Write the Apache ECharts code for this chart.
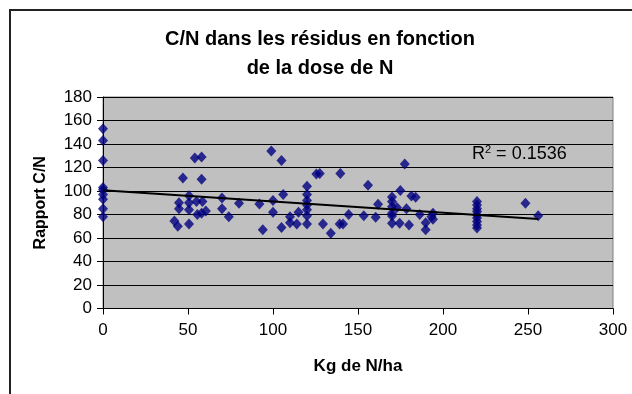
<!DOCTYPE html>
<html>
<head>
<meta charset="utf-8">
<script src="https://cdn.jsdelivr.net/npm/echarts@6/dist/echarts.min.js"></script>
<style>
  html, body { margin: 0; padding: 0; background: #fff; }
  #chart { width: 632px; height: 394px; }
</style>
</head>
<body>
<div id="chart"></div>
<script>
// Nitrogen dose (kg N/ha) and matching C/N ratio of residues, one entry per sample
const doseN = [
  0, 0, 0, 0, 0, 0, 0, 0, 0,
  42, 44, 44.7, 44.7, 47, 50.6, 50.6, 50.6, 50.6, 54, 55, 55.5, 58, 58, 58.5, 58, 60.5,
  70, 70, 74, 80, 92, 94, 99, 100, 100, 105, 105, 106, 110, 110, 114, 115,
  120, 120, 120, 120, 120, 120, 120,
  125.5, 127.5, 129.4, 134, 139.6, 139.2, 141.2, 144.5, 153.4, 155.9, 160.4, 161.8,
  170, 170, 170, 170, 170, 170,
  172.9, 174.9, 174.5, 177.5, 178.5, 180, 181.4, 183.9, 186.3, 189.8, 189.8, 193.2, 194.1, 194.1,
  220, 220, 220, 220, 220, 220, 220, 220, 220,
  248.5, 256
];
const ratioCN = [
  153, 143, 126, 103, 101, 97, 93, 85, 78,
  74.5, 70, 90, 85, 111, 72, 96, 90, 84, 128, 91, 80, 129, 110, 91, 81, 83,
  94, 85, 78, 89.5, 89, 67, 134, 92, 82, 126, 69, 97, 78, 73, 72, 82,
  104, 97, 92, 88, 84, 79, 72,
  114.5, 115, 72, 64, 115, 72, 72, 80, 79, 105, 77.6, 88.7,
  95, 91, 86.6, 81, 78.7, 72.5,
  86, 100.5, 72.5, 123, 85, 71, 95.7, 94.6, 80, 73, 67, 78, 81, 76,
  91, 88, 85, 82.5, 79.6, 77, 74, 71, 68.5,
  89.5, 79
];
const xTicks = [0, 50, 100, 150, 200, 250, 300];
const yTicks = [0, 20, 40, 60, 80, 100, 120, 140, 160, 180];
const r2Label = '0.1536';

const points = doseN.map((x, i) => [x, ratioCN[i]]);

// Ordinary least-squares trend line over the sampled dose range
function linearFit(xs, ys) {
  const n = xs.length;
  let sx = 0, sy = 0, sxx = 0, sxy = 0;
  for (let i = 0; i < n; i++) {
    sx += xs[i]; sy += ys[i]; sxx += xs[i] * xs[i]; sxy += xs[i] * ys[i];
  }
  const slope = (n * sxy - sx * sy) / (n * sxx - sx * sx);
  const intercept = (sy - slope * sx) / n;
  return { slope, intercept };
}
const fit = linearFit(doseN, ratioCN);
const xMin = Math.min(...doseN), xMax = Math.max(...doseN);
const trend = [
  [xMin, fit.intercept + fit.slope * xMin],
  [xMax, fit.intercept + fit.slope * xMax]
];

const FONT = '"Liberation Sans", Arial, sans-serif';
const chart = echarts.init(document.getElementById('chart'));
chart.setOption({
  animation: false,
  backgroundColor: '#ffffff',
  title: {
    text: 'C/N dans les résidus en fonction\nde la dose de N',
    left: 315,
    top: 20,
    textAlign: 'center',
    textStyle: { fontFamily: FONT, fontSize: 20, fontWeight: 'bold', color: '#000', lineHeight: 29 }
  },
  grid: {
    left: 103, top: 97, width: 510, height: 211.5,
    show: true, backgroundColor: '#c0c0c0', borderColor: '#808080', borderWidth: 1
  },
  xAxis: {
    type: 'value',
    min: xTicks[0], max: xTicks[xTicks.length - 1], interval: 50,
    name: 'Kg de N/ha', nameLocation: 'middle', nameGap: 49,
    nameTextStyle: { fontFamily: FONT, fontSize: 17, fontWeight: 'bold', color: '#000' },
    axisLine: { show: true, onZero: false, lineStyle: { color: '#000', width: 1 } },
    axisTick: { show: true, inside: false, length: 6, lineStyle: { color: '#000' } },
    axisLabel: { margin: 13, fontFamily: FONT, fontSize: 17, color: '#000',
      formatter: v => xTicks.includes(v) ? String(v) : '' },
    splitLine: { show: false }
  },
  yAxis: {
    type: 'value',
    min: yTicks[0], max: yTicks[yTicks.length - 1], interval: 20,
    name: 'Rapport C/N', nameLocation: 'middle', nameGap: 54,
    nameTextStyle: { fontFamily: FONT, fontSize: 16, fontWeight: 'bold', color: '#000' },
    axisLine: { show: true, onZero: false, lineStyle: { color: '#000', width: 1 } },
    axisTick: { show: true, inside: false, length: 6, lineStyle: { color: '#000' } },
    axisLabel: { margin: 11, fontFamily: FONT, fontSize: 17, color: '#000',
      formatter: v => yTicks.includes(v) ? String(v) : '' },
    splitLine: { show: true, lineStyle: { color: '#000', width: 1 } }
  },
  series: [
    {
      type: 'scatter',
      data: points,
      symbol: 'diamond',
      symbolSize: [10, 11],
      itemStyle: { color: '#000080' },
      z: 2
    },
    {
      type: 'line',
      data: trend,
      showSymbol: false,
      symbol: 'none',
      lineStyle: { color: '#000', width: 2 },
      z: 3
    }
  ],
  graphic: [
    {
      type: 'rect',
      shape: { x: 10, y: 10, width: 700, height: 500 },
      style: { fill: 'none', stroke: '#222', lineWidth: 2 },
      silent: true
    },
    {
      type: 'text',
      left: 472,
      top: 144,
      style: {
        text: '{a|R}{b|2}{a| = ' + r2Label + '}',
        rich: {
          a: { fontFamily: FONT, fontSize: 18, fill: '#000', color: '#000' },
          b: { fontFamily: FONT, fontSize: 11, fill: '#000', color: '#000', padding: [0, 0, 10, 0] }
        }
      },
      z: 10
    }
  ]
});
</script>
</body>
</html>
